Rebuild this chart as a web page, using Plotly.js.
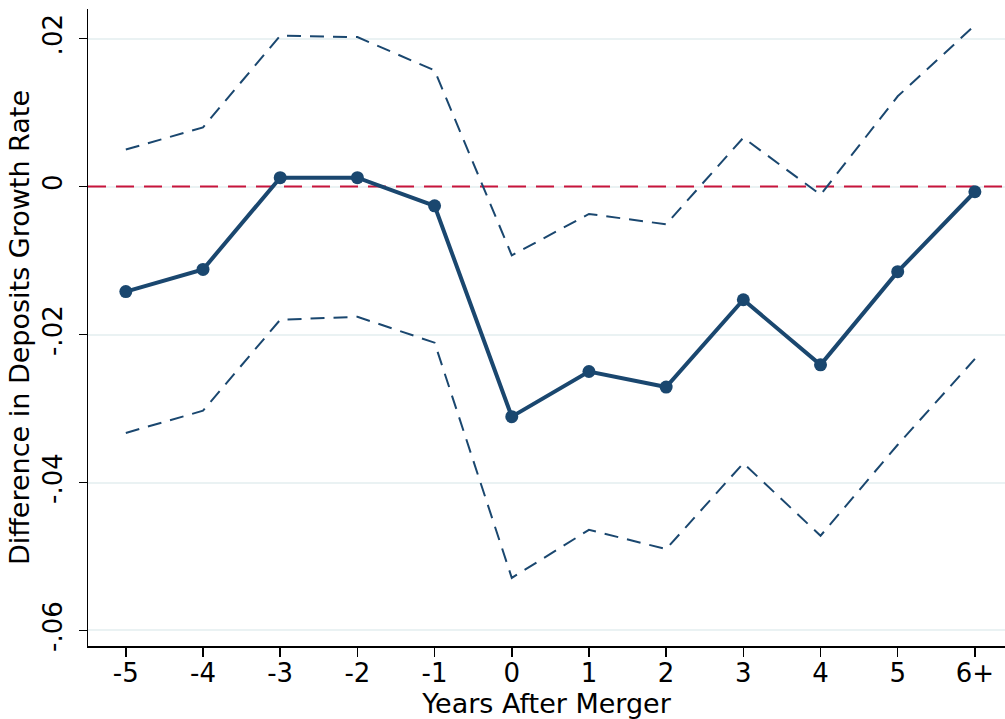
<!DOCTYPE html>
<html><head><meta charset="utf-8">
<script src="https://cdn.plot.ly/plotly-3.0.1.min.js"></script>
<style>html,body{margin:0;padding:0;background:#fff}#chart{width:1005px;height:719px}</style>
</head><body><div id="chart"></div>
<script>
const years = [-5,-4,-3,-2,-1,0,1,2,3,4,5,6];
const tickLabels = ["-5","-4","-3","-2","-1","0","1","2","3","4","5","6+"];
const estimate = [-0.0142,-0.0112,0.0012,0.0012,-0.0026,-0.0311,-0.0250,-0.0271,-0.0153,-0.0241,-0.0115,-0.0007];
const upper = [0.0050,0.0080,0.0204,0.0202,0.0157,-0.0093,-0.0037,-0.0051,0.0066,-0.0011,0.0122,0.0218];
const lower = [-0.0333,-0.0303,-0.0180,-0.0176,-0.0211,-0.0529,-0.0464,-0.0490,-0.0374,-0.0472,-0.0349,-0.0233];
const yTicks = [-0.06,-0.04,-0.02,0,0.02];
const yTickText = ["-.06","-.04","-.02","0",".02"];
const navy = "#1a476f";
const traces = [
  {x:[-5.49,6.4], y:[0,0], mode:"lines", line:{color:"#c8143c", width:2, dash:"18px,10px"}, hoverinfo:"skip"},
  {x:years, y:upper, mode:"lines", line:{color:navy, width:2, dash:"14px,9px"}},
  {x:years, y:lower, mode:"lines", line:{color:navy, width:2, dash:"14px,9px"}},
  {x:years, y:estimate, mode:"lines+markers", line:{color:navy, width:4}, marker:{color:navy, size:13}}
];
const layout = {
  width:1005, height:719,
  margin:{l:88, r:0, t:9, b:73},
  paper_bgcolor:"#fff", plot_bgcolor:"#fff",
  showlegend:false,
  font:{family:"DejaVu Sans", color:"#000", size:27},
  xaxis:{
    range:[-5.49,6.39], tickvals:years, ticktext:tickLabels,
    showgrid:false, zeroline:false, showline:true, linecolor:"#000", linewidth:1.5,
    ticks:"outside", ticklen:9, tickwidth:1.5, tickcolor:"#000",
    ticklabelstandoff:-6,
    tickfont:{size:26, family:"DejaVu Sans"},
    title:{text:"Years After Merger", font:{size:27, family:"DejaVu Sans"}, standoff:0}
  },
  yaxis:{
    range:[-0.0621,0.0240], tickvals:yTicks, ticktext:yTickText, tickangle:-90,
    showgrid:true, gridcolor:"#eaf2f3", gridwidth:2, zeroline:false,
    showline:true, linecolor:"#000", linewidth:1.5,
    ticks:"outside", ticklen:8, tickwidth:1.5, tickcolor:"#000",
    ticklabelstandoff:6,
    tickfont:{size:26, family:"DejaVu Sans"},
    title:{text:"Difference in Deposits Growth Rate", font:{size:27, family:"DejaVu Sans"}, standoff:0}
  }
};
Plotly.newPlot("chart", traces, layout, {displayModeBar:false, staticPlot:true});
</script></body></html>
